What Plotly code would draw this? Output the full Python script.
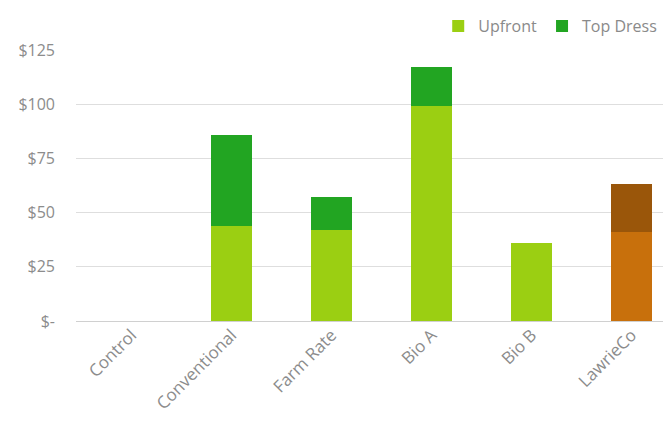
import plotly.graph_objects as go

categories = ["Control", "Conventional", "Farm Rate", "Bio A", "Bio B", "LawrieCo"]
upfront = [0, 44, 42, 99, 36, 41]
top_dress = [0, 42, 15, 18, 0, 22]
tick_vals = [0, 25, 50, 75, 100, 125]
tick_text = ["$-", "$25", "$50", "$75", "$100", "$125"]

up_colors = ["#9bcf12"] * 5 + ["#c8700c"]
td_colors = ["#22a522"] * 5 + ["#9a560a"]

fig = go.Figure()
fig.add_trace(go.Bar(name="Upfront", x=categories, y=upfront,
                     marker=dict(color=up_colors, line=dict(width=0)), width=0.41))
fig.add_trace(go.Bar(name="Top Dress", x=categories, y=top_dress,
                     marker=dict(color=td_colors, line=dict(width=0)), width=0.41))

font_family = "'Open Sans', sans-serif"
fig.update_layout(
    barmode="stack",
    width=671, height=421,
    margin=dict(l=68, r=0, t=42, b=108, autoexpand=False),
    paper_bgcolor="white", plot_bgcolor="white",
    font=dict(family=font_family, size=16, color="#8c8c8c"),
    showlegend=True,
    legend=dict(orientation="h", xref="container", yref="container",
                x=0.975, xanchor="right", y=1 - 18 / 421, yanchor="middle",
                font=dict(size=16, color="#8a8a8a"), traceorder="normal",
                itemwidth=30, bgcolor="rgba(0,0,0,0)"),
    xaxis=dict(range=[-0.556, 5.474], tickangle=-45, showgrid=False,
               showline=False, ticks="", tickfont=dict(size=17, color="#8c8c8c")),
    yaxis=dict(range=[0, 125], tickvals=tick_vals, ticktext=tick_text,
               showgrid=True, gridcolor="#dedede", gridwidth=1,
               zeroline=True, zerolinecolor="#d0d0d0", zerolinewidth=1,
               ticks="", ticklabelstandoff=20,
               tickfont=dict(size=16, color="#8c8c8c")),
)

fig.write_html("out.html")
